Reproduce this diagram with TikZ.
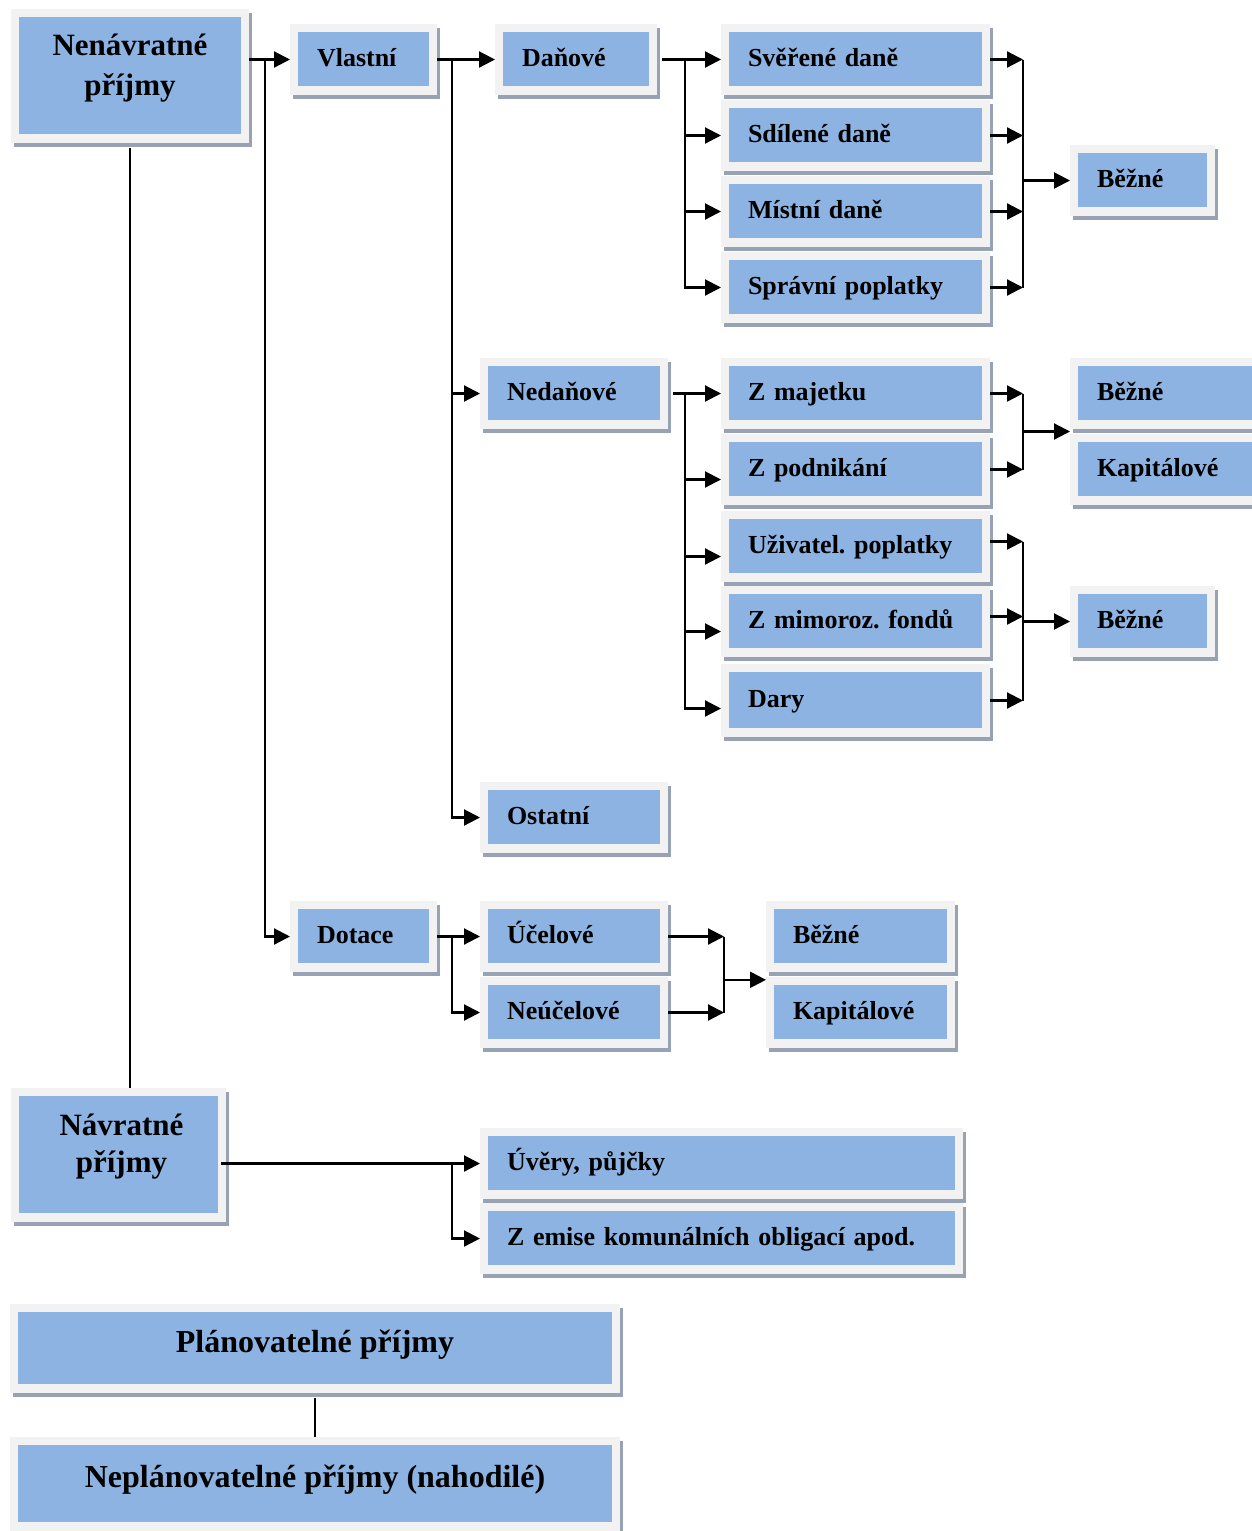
\documentclass[tikz,border=0pt]{standalone}
\usepackage{fontspec}
\setmainfont{Liberation Serif}
\frenchspacing
\usetikzlibrary{arrows.meta,shadows,calc}
\definecolor{boxblue}{HTML}{8DB3E2}
\definecolor{framegray}{HTML}{F2F2F2}
\definecolor{shadowgray}{HTML}{97A3B4}
\tikzset{
  box/.style={anchor=north west, fill=framegray, inner sep=0pt, outer sep=0pt,
    drop shadow={shadow xshift=3pt, shadow yshift=-4pt, fill=shadowgray, opacity=1},
    path picture={\fill[boxblue] ([xshift=8pt,yshift=-8pt]path picture bounding box.north west) rectangle ([xshift=-8pt,yshift=9pt]path picture bounding box.south east);},
    font=\bfseries\fontsize{26}{30}\selectfont},
  lbox/.style={box, inner xsep=27pt, align=left, text height=20pt, text depth=7pt, minimum height=71pt},
  cbox/.style={box, align=center, font=\bfseries\fontsize{32}{36}\selectfont, text height=23pt, text depth=16pt},
  ln/.style={line width=2.2pt},
  arr/.style={line width=2.2pt, -{Triangle[length=16pt,width=16pt]}}
}
\begin{document}
\begin{tikzpicture}[x=1pt,y=-1pt]
\useasboundingbox (0,0) rectangle (1251,1531);
% title boxes
\node[box, minimum width=238pt, minimum height=134pt] (nen) at (11,9)
  {\parbox[c][134pt][t]{238pt}{\centering\fontsize{31}{40}\selectfont\rule{0pt}{46pt}Nenávratné\\příjmy}};
\node[box, minimum width=215pt, minimum height=134pt] (nav) at (11,1088)
  {\parbox[c][134pt][t]{215pt}{\centering\fontsize{31}{37}\selectfont\rule{0pt}{47pt}\hspace*{6pt}Návratné\\\hspace*{6pt}příjmy}};
% column 2
\node[lbox, text width=93pt] (vla) at (290,24) {Vlastní};
\node[lbox, text width=93pt] (dot) at (290,901) {Dotace};
% column 3
\node[lbox, text width=108pt] (dan) at (495,24) {Daňové};
\node[lbox, text width=134pt] (ned) at (480,358) {Nedaňové};
\node[lbox, text width=134pt] (ost) at (480,782) {Ostatní};
\node[lbox, text width=134pt] (uce) at (480,901) {Účelové};
\node[lbox, text width=134pt] (neu) at (480,977) {Neúčelové};
\node[lbox, text width=429pt] (uve) at (480,1128) {Úvěry, půjčky};
\node[lbox, text width=429pt] (emi) at (480,1203) {Z emise komunálních obligací apod.};
% column 4
\node[lbox, text width=215pt] (sve) at (721,24) {Svěřené daně};
\node[lbox, text width=215pt] (sdi) at (721,100) {Sdílené daně};
\node[lbox, text width=215pt] (mis) at (721,176) {Místní daně};
\node[lbox, text width=215pt] (spr) at (721,252) {Správní poplatky};
\node[lbox, text width=215pt] (zma) at (721,358) {Z majetku};
\node[lbox, text width=215pt] (zpo) at (721,434) {Z podnikání};
\node[lbox, text width=215pt] (uzi) at (721,511) {Uživatel. poplatky};
\node[lbox, text width=215pt] (zmi) at (721,586) {Z mimoroz. fondů};
\node[lbox, text width=215pt, minimum height=73pt] (dar) at (721,664) {Dary};
% column 5
\node[lbox, text width=91pt] (bez1) at (1070,145) {Běžné};
\node[lbox, text width=146pt] (bez2) at (1070,358) {Běžné};
\node[lbox, text width=146pt] (kap) at (1070,434) {Kapitálové};
\node[lbox, text width=91pt] (bez3) at (1070,586) {Běžné};
\node[lbox, text width=135pt] (dbez) at (766,901) {Běžné};
\node[lbox, text width=135pt] (dkap) at (766,977) {Kapitálové};
% bottom
\node[cbox, minimum width=610pt, minimum height=89pt] (pla) at (10,1304) {Plánovatelné příjmy};
\node[cbox, minimum width=610pt, minimum height=94pt] (nep) at (10,1437) {Neplánovatelné příjmy (nahodilé)};
% junction coordinates
\coordinate (j1) at (265,0);
\coordinate (j2) at (452,0);
\coordinate (j3) at (685,0);
\coordinate (j4) at (1023,0);
\coordinate (j6) at (724,0);
% connectors
\draw[arr] (vla.west -| nen.east) -- (vla.west);
\draw[arr] (vla.west -| j1) |- (dot.west);
\draw[ln] ([yshift=-5pt]nen.south) -- (nen.south |- nav.north);
\draw[arr] (vla.east) -- (dan.west);
\draw[arr] (vla.east -| j2) |- (ned.west);
\draw[arr] (vla.east -| j2) |- (ost.west);
\draw[arr] ([xshift=5pt]dan.east) -- (sve.west);
\draw[arr] (sve.west -| j3) |- (sdi.west);
\draw[arr] (sve.west -| j3) |- (mis.west);
\draw[arr] (sve.west -| j3) |- (spr.west);
\draw[arr] (sve.east) -- (sve.east -| j4);
\draw[arr] (sdi.east) -- (sdi.east -| j4);
\draw[arr] (mis.east) -- (mis.east -| j4);
\draw[arr] (spr.east) -- (spr.east -| j4);
\draw[ln] (sve.east -| j4) -- (spr.east -| j4);
\draw[arr] (bez1.west -| j4) -- (bez1.west);
% nedanove
\draw[arr] ([xshift=5pt]ned.east) -- (zma.west);
\draw[arr] (zma.west -| j3) |- ([yshift=-10pt]zpo.west);
\draw[arr] (zma.west -| j3) |- ([yshift=-10pt]uzi.west);
\draw[arr] (zma.west -| j3) |- ([yshift=-10pt]zmi.west);
\draw[arr] (zma.west -| j3) |- ([yshift=-8pt]dar.west);
\draw[arr] (zma.east) -- (zma.east -| j4);
\draw[arr] (zpo.east) -- (zpo.east -| j4);
\draw[ln] (zma.east -| j4) -- (zpo.east -| j4);
\coordinate (m1) at ($(zma.east -| j4)!.5!(zpo.east -| j4)$);
\draw[arr] (m1) -- (m1 -| kap.west);
\draw[arr] ([yshift=5pt]uzi.east) -- ([yshift=5pt]uzi.east -| j4);
\draw[arr] ([yshift=5pt]zmi.east) -- ([yshift=5pt]zmi.east -| j4);
\draw[arr] (dar.east) -- (dar.east -| j4);
\draw[ln] ([yshift=5pt]uzi.east -| j4) -- (dar.east -| j4);
\draw[arr] (bez3.west -| j4) -- (bez3.west);
% dotace
\draw[arr] (dot.east) -- (uce.west);
\draw[arr] (dot.east -| j2) |- (neu.west);
\draw[arr] (uce.east) -- (uce.east -| j6);
\draw[arr] (neu.east) -- (neu.east -| j6);
\draw[ln] (uce.east -| j6) -- (neu.east -| j6);
\coordinate (m2) at ($(uce.east -| j6)!.57!(neu.east -| j6)$);
\draw[arr] (m2) -- (m2 -| dbez.west);
% navratne
\draw[arr] ([xshift=-5pt]uve.west -| nav.east) -- (uve.west);
\draw[arr] (uve.west -| j2) |- (emi.west);
% plan
\draw[ln] ([yshift=-5pt]pla.south) -- (nep.north);
\end{tikzpicture}
\end{document}
